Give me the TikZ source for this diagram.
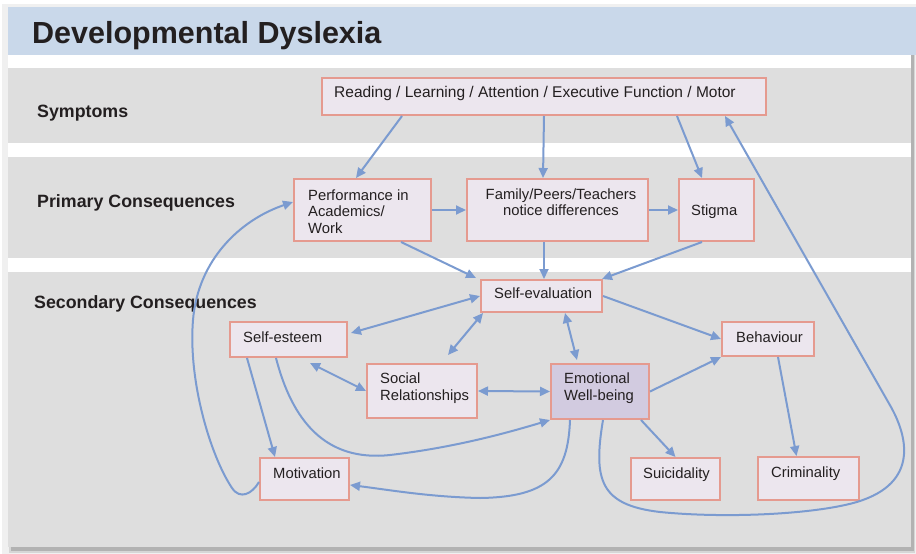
\documentclass[tikz,border=0pt]{standalone}
\usepackage{fontspec}
\setmainfont{Liberation Sans}
\usetikzlibrary{arrows.meta}
\definecolor{panel}{HTML}{DEDEDE}
\definecolor{titlebar}{HTML}{C9D8EA}
\definecolor{boxfill}{HTML}{ECE6EE}
\definecolor{boxline}{HTML}{E59A8F}
\definecolor{emofill}{HTML}{D2CBE0}
\definecolor{arrowc}{HTML}{7B9BD0}
\definecolor{ink}{HTML}{231F20}
\begin{document}
\begin{tikzpicture}[x=1pt,y=-1pt,
  box/.style={draw=boxline, fill=boxfill, line width=2pt, inner sep=0pt},
  lbl/.style={font=\fontsize{14.8}{16.7}\selectfont, text=ink, inner sep=0pt},
  sec/.style={font=\bfseries\fontsize{17.8}{20}\selectfont, text=ink, inner sep=0pt, anchor=base west},
  conn/.style={draw=arrowc, line width=2pt, -{Triangle[length=10pt,width=9pt]}},
  biconn/.style={draw=arrowc, line width=2pt, {Triangle[length=10pt,width=9pt]}-{Triangle[length=10pt,width=9pt]}},
]
\useasboundingbox (0,0) rectangle (916,554);
\fill[white] (0,0) rectangle (916,554);
% shadow
\fill[black!6] (2,4) rectangle (916,554);
\fill[black!16] (9,10) rectangle (915,553);
\fill[black!30] (11,12) rectangle (914,551);
% panel and bands
\fill[panel] (8,7) rectangle (911,547);
\fill[white] (8,55) rectangle (911,68);
\fill[white] (8,143) rectangle (911,157);
\fill[white] (8,258) rectangle (911,272);
\fill[titlebar] (8,7) rectangle (916,55);

\node[font=\bfseries\fontsize{30.5}{34}\selectfont, anchor=base west, inner sep=0pt, text=ink] (title) at (32,43) {Developmental Dyslexia};
\node[sec] (s1) at (37,117) {Symptoms};
\node[sec] (s2) at (37,207) {Primary Consequences};
\node[sec] (s3) at (34,308) {Secondary Consequences};

% boxes
\node[box, minimum width=444pt, minimum height=37pt] (sym) at (544,96.5) {};
\node[box, minimum width=137pt, minimum height=62pt] (perf) at (362.5,210) {};
\node[box, minimum width=181pt, minimum height=62pt] (fam) at (557.5,210) {};
\node[box, minimum width=75pt, minimum height=62pt] (stig) at (716.5,210) {};
\node[box, minimum width=121pt, minimum height=32pt] (selfev) at (541.5,296) {};
\node[box, minimum width=117pt, minimum height=35pt] (esteem) at (288.5,339.5) {};
\node[box, minimum width=110pt, minimum height=54pt] (social) at (422,391) {};
\node[box, fill=emofill, minimum width=98pt, minimum height=55pt] (emo) at (600,391.5) {};
\node[box, minimum width=92pt, minimum height=34pt] (behav) at (768,339) {};
\node[box, minimum width=89pt, minimum height=42pt] (motiv) at (304.5,479) {};
\node[box, minimum width=89pt, minimum height=42pt] (suic) at (675.5,479) {};
\node[box, minimum width=101pt, minimum height=43pt] (crim) at (808.5,478.5) {};

% texts
\node[lbl, font=\fontsize{15.5}{17}\selectfont, anchor=base west] (symT) at (334,97) {Reading / Learning / Attention / Executive Function / Motor};
\node[lbl, anchor=north west, align=left] (perfT) at (308,189.2) {Performance in\\Academics/\\Work};
\node[lbl, anchor=north, align=center] (famT) at (561,188.2) {Family/Peers/Teachers\\notice differences};
\node[lbl, anchor=base west] (stigT) at (691,215) {Stigma};
\node[lbl, anchor=base west] (selfevT) at (494,298) {Self-evaluation};
\node[lbl, anchor=base west] (esteemT) at (243,342) {Self-esteem};
\node[lbl, anchor=north west, align=left] (socialT) at (380,372.4) {Social\\Relationships};
\node[lbl, anchor=north west, align=left] (emoT) at (564,372.4) {Emotional\\Well-being};
\node[lbl, anchor=base west] (behavT) at (736,342) {Behaviour};
\node[lbl, anchor=base west] (motivT) at (273,478) {Motivation};
\node[lbl, anchor=base west] (suicT) at (643,478) {Suicidality};
\node[lbl, anchor=base west] (crimT) at (771,477) {Criminality};

% connectors
\draw[conn] ([xshift=81pt]sym.south west) -- ([xshift=63pt]perf.north west);
\draw[conn] (sym.south) -- ([xshift=77pt]fam.north west);
\draw[conn] ([xshift=356pt]sym.south west) -- ([xshift=24pt]stig.north west);
\draw[conn] (perf.east) -- (fam.west);
\draw[conn] (fam.east) -- (stig.west);
\draw[conn] ([xshift=108pt]perf.south west) -- ([xshift=-4pt,yshift=1pt]selfev.north west);
\draw[conn] ([xshift=-13.5pt]fam.south) -- ([xshift=2.5pt]selfev.north);
\draw[conn] ([xshift=24pt]stig.south west) -- ([xshift=-1pt]selfev.north east);
\draw[biconn] ([xshift=3pt,yshift=6.5pt]esteem.east) -- (selfev.west);
\draw[biconn] ([xshift=3pt]selfev.south west) -- ([xshift=82pt,yshift=8pt]social.north west);
\draw[biconn] ([xshift=23.5pt]selfev.south) -- ([xshift=-23pt,yshift=3pt]emo.north);
\draw[conn] (selfev.east) -- (behav.west);
\draw[biconn] ([xshift=21.5pt,yshift=-5pt]esteem.south) -- (social.west);
\draw[biconn] (social.east) -- (emo.west);
\draw[conn] (emo.east) -- (behav.south west);
\draw[conn] ([xshift=-9pt]emo.south east) -- (suic.north);
\draw[conn] ([xshift=10pt]behav.south) -- ([xshift=-12pt]crim.north);
\draw[conn] ([xshift=18pt]esteem.south west) -- ([xshift=16pt]motiv.north west);

\draw[conn] ([xshift=-12.5pt]esteem.south) .. controls (292,420) and (325,462) .. (390,455) .. controls (450,448) and (500,435) .. (emo.south west);
\draw[conn] ([xshift=-30pt]emo.south) .. controls (568,475) and (548,497) .. (480,498) .. controls (430,497) and (390,490) .. ([yshift=-6pt]motiv.east);
\draw[conn] ([yshift=-3pt]motiv.west) .. controls (252,494) and (240,500) .. (232,488) .. controls (210,455) and (188,380) .. (193,320) .. controls (198,260) and (240,220) .. ([yshift=8pt]perf.west);
\draw[conn] ([xshift=3pt]emo.south) .. controls (593,480) and (600,505) .. (660,512) .. controls (720,518) and (800,515) .. (845,505) .. controls (915,490) and (912,445) .. (891,407) -- ([xshift=-42pt]sym.south east);
\end{tikzpicture}
\end{document}
